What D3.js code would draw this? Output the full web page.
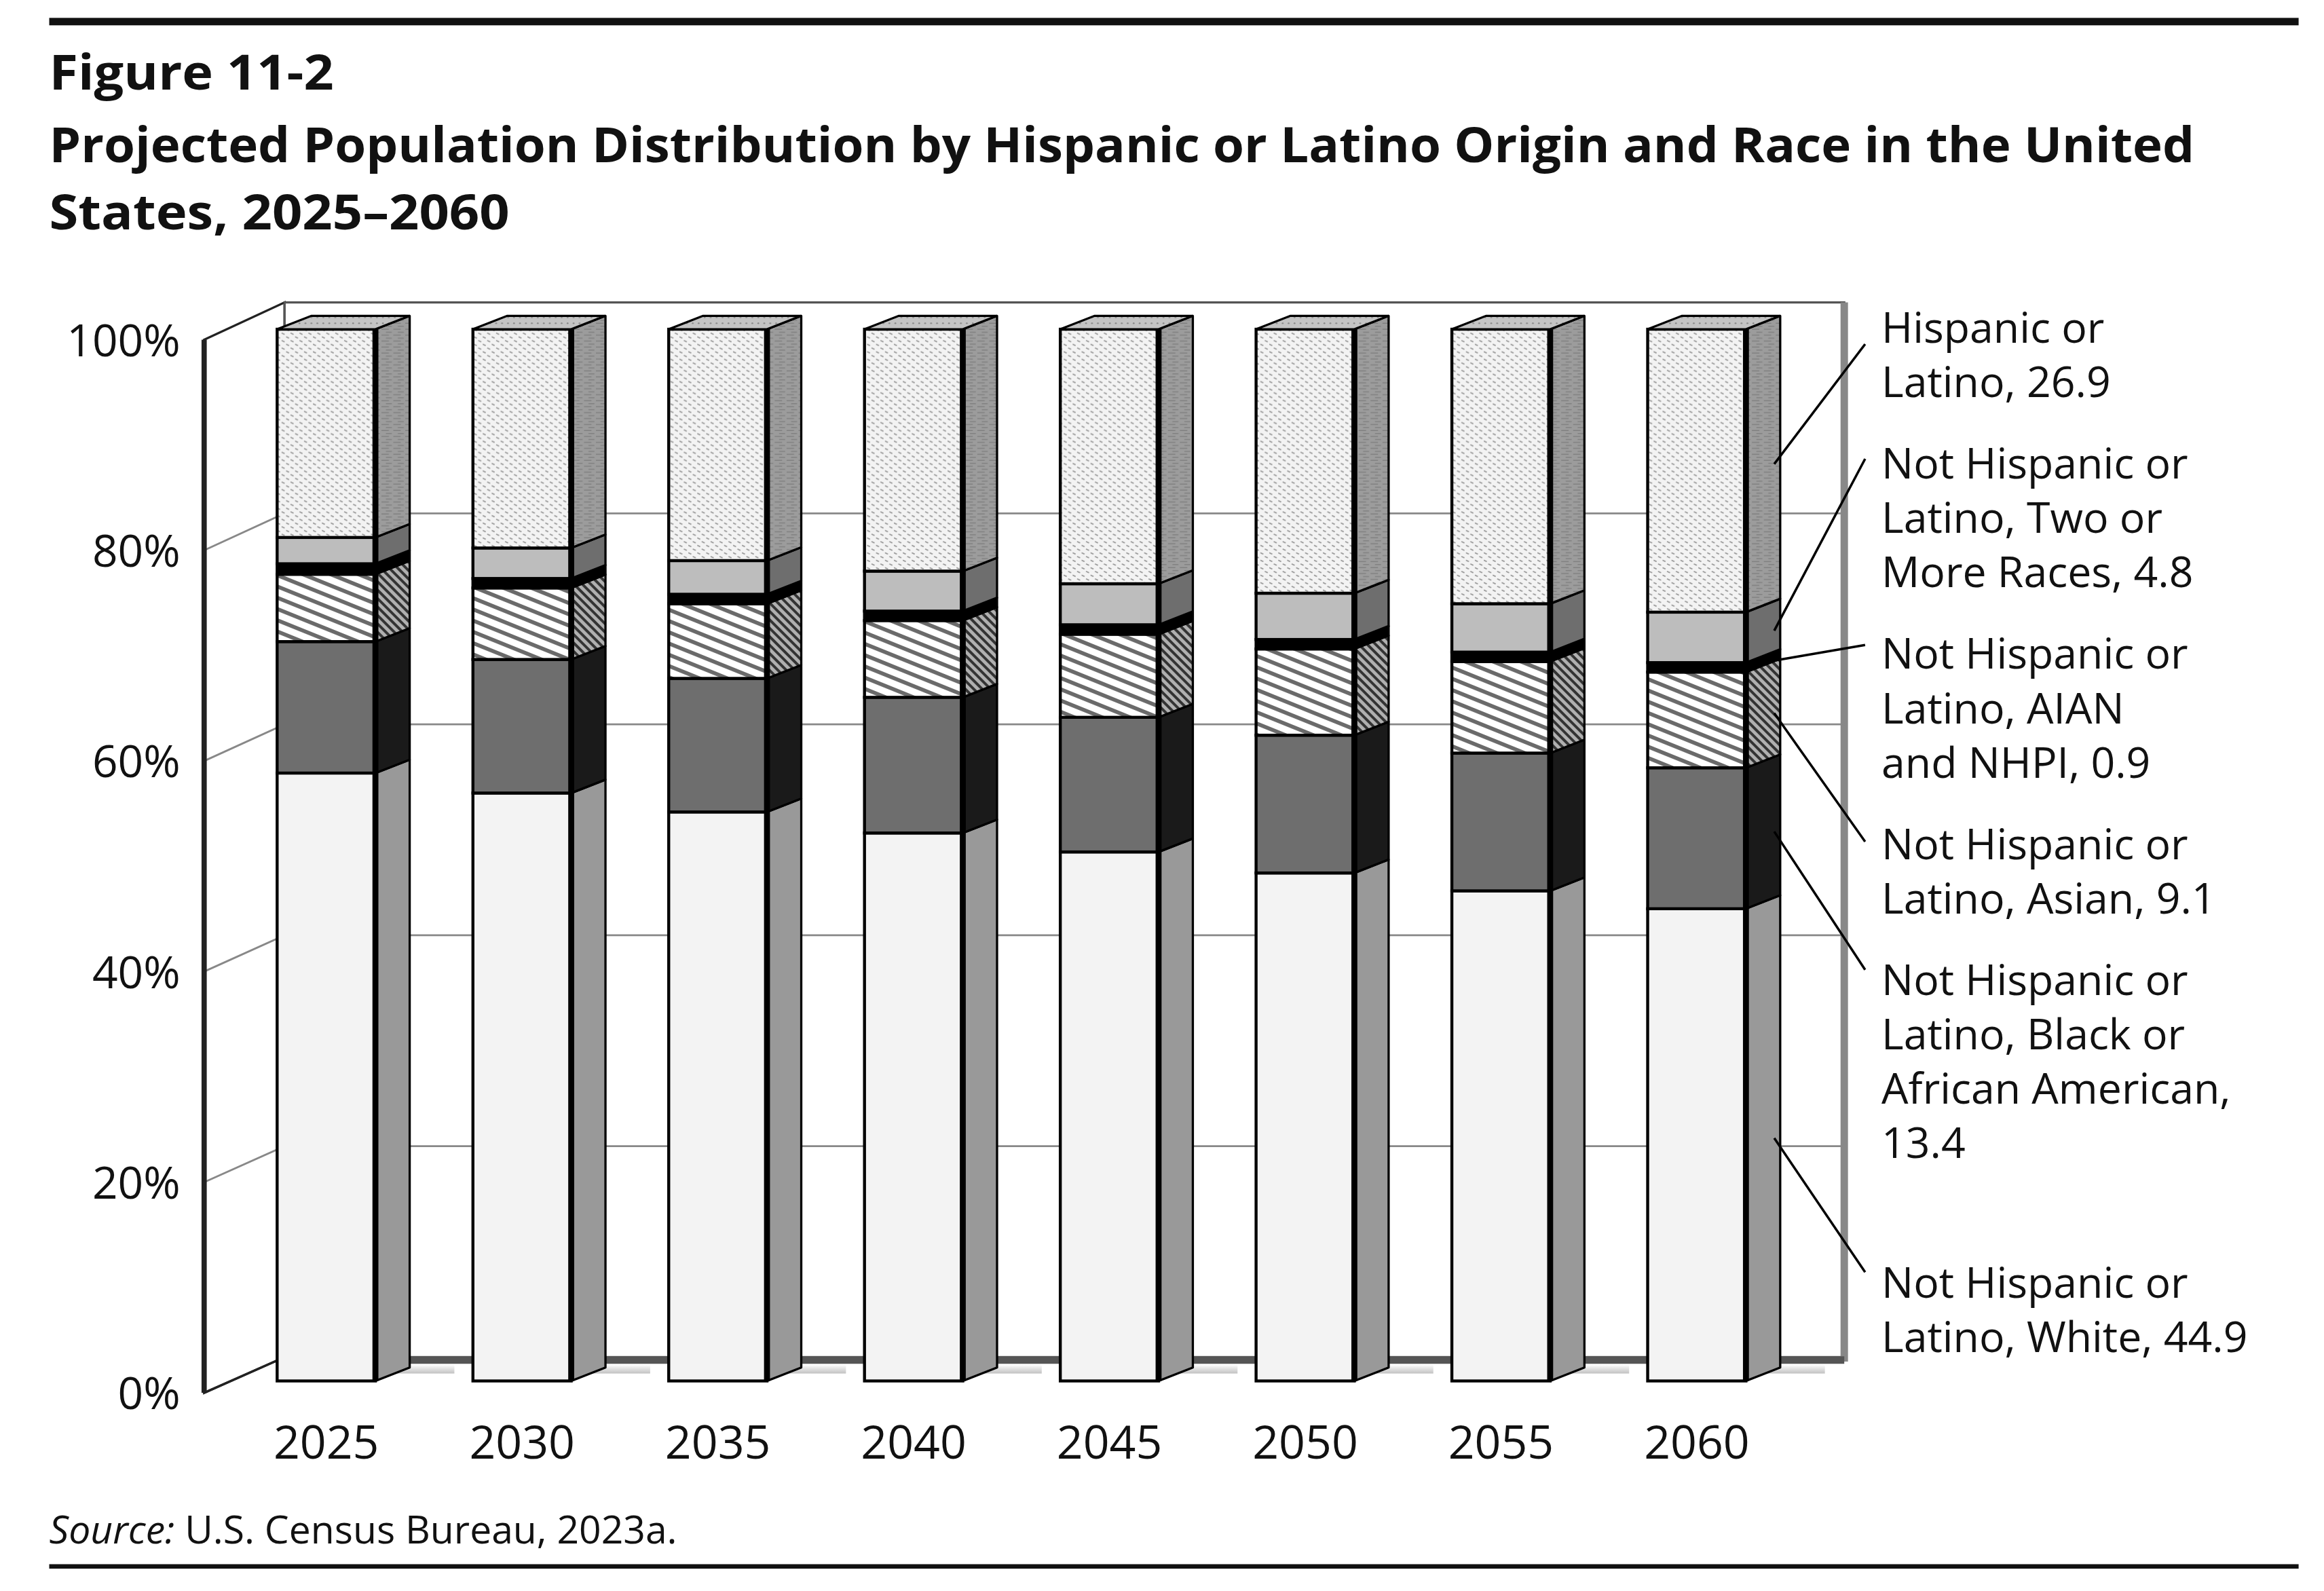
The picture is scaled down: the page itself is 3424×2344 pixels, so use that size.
<!DOCTYPE html>
<html>
<head>
<meta charset="utf-8">
<script src="https://cdn.jsdelivr.net/npm/d3@7"></script>
<style>
  body { margin: 0; background: #fff; }
  text { font-family: "Open Sans", "Noto Sans", sans-serif; fill: #111; }
</style>
</head>
<body>
<script>
// data, bottom to top within each bar
var years = ['2025', '2030', '2035', '2040', '2045', '2050', '2055', '2060']
var white = [57.8, 55.9, 54.1, 52.1, 50.3, 48.3, 46.6, 44.9]
var black = [12.5, 12.7, 12.7, 12.9, 12.8, 13.1, 13.1, 13.4]
var asian = [6.4, 6.8, 7.1, 7.3, 7.9, 8.2, 8.7, 9.1]
var aian = [1.0, 0.9, 0.9, 0.9, 0.9, 0.9, 0.9, 0.9]
var twoOrMore = [2.5, 2.9, 3.2, 3.8, 3.9, 4.4, 4.6, 4.8]
var hispanic = [19.8, 20.8, 22.0, 23.0, 24.2, 25.1, 26.1, 26.9]
var yTicks = [0, 20, 40, 60, 80, 100]
var seriesNames = ['white', 'black', 'asian', 'aian', 'two', 'hispanic']
var seriesValues = [white, black, asian, aian, twoOrMore, hispanic]
var labelLines = [
  ['Not Hispanic or', 'Latino, White, 44.9'],
  ['Not Hispanic or', 'Latino, Black or', 'African American,', '13.4'],
  ['Not Hispanic or', 'Latino, Asian, 9.1'],
  ['Not Hispanic or', 'Latino, AIAN', 'and NHPI, 0.9'],
  ['Not Hispanic or', 'Latino, Two or', 'More Races, 4.8'],
  ['Hispanic or', 'Latino, 26.9']
]
var labelTop = [871, 668, 577, 449, 321, 230]
var leaderStart = [854, 651, 565, 433, 308, 231]

var W = 1560, H = 1068
var svg = d3.select('body').append('svg')
  .attr('width', 3424).attr('height', 2344)
  .attr('viewBox', '0 0 ' + W + ' ' + H)

// patterns
var defs = svg.append('defs')
var p = defs.append('pattern').attr('id', 'hisFront').attr('patternUnits', 'userSpaceOnUse')
  .attr('width', 6).attr('height', 5)
p.append('rect').attr('width', 6).attr('height', 5).attr('fill', '#f3f3f3')
p.append('path').attr('d', 'M0,1 l2,1 M3,3.5 l2,1').attr('stroke', '#9a9a9a').attr('stroke-width', 0.8)
p = defs.append('pattern').attr('id', 'hisSide').attr('patternUnits', 'userSpaceOnUse')
  .attr('width', 8).attr('height', 4)
p.append('rect').attr('width', 8).attr('height', 4).attr('fill', '#9c9c9c')
p.append('path').attr('d', 'M0,1 h5 M3,3 h4').attr('stroke', '#808080').attr('stroke-width', 0.7)
p = defs.append('pattern').attr('id', 'topFace').attr('patternUnits', 'userSpaceOnUse')
  .attr('width', 4).attr('height', 4)
p.append('rect').attr('width', 4).attr('height', 4).attr('fill', '#c4c4c4')
p.append('circle').attr('cx', 1).attr('cy', 1).attr('r', 0.6).attr('fill', '#888')
p = defs.append('pattern').attr('id', 'asianFront').attr('patternUnits', 'userSpaceOnUse')
  .attr('width', 7).attr('height', 7).attr('patternTransform', 'rotate(22)')
p.append('rect').attr('width', 7).attr('height', 7).attr('fill', '#fff')
p.append('rect').attr('width', 7).attr('height', 2.6).attr('fill', '#6a6a6a')
p = defs.append('pattern').attr('id', 'asianSide').attr('patternUnits', 'userSpaceOnUse')
  .attr('width', 4).attr('height', 4).attr('patternTransform', 'rotate(45)')
p.append('rect').attr('width', 4).attr('height', 4).attr('fill', '#b0b0b0')
p.append('rect').attr('width', 4).attr('height', 1.8).attr('fill', '#333')

var frontFill = { white: '#f3f3f3', black: '#6e6e6e', asian: 'url(#asianFront)', aian: '#000', two: '#bdbdbd', hispanic: 'url(#hisFront)' }
var sideFill = { white: '#999', black: '#1a1a1a', asian: 'url(#asianSide)', aian: '#000', two: '#6e6e6e', hispanic: 'url(#hisSide)' }

// scales
var x = d3.scaleBand().domain(years).range([186, 1172]).paddingInner(0.498).paddingOuter(0)
var yFront = d3.scaleLinear().domain([0, 100]).range([927, 221])
var yAxis = d3.scaleLinear().domain([0, 100]).range([935, 228])
var yBack = d3.scaleLinear().domain([0, 100]).range([911, 203])
var axisX = 137, backX = 191, backRight = 1238
var dx = 23, dy = -9

// walls
var wall = svg.append('g')
wall.append('path')
  .attr('d', 'M' + axisX + ',' + yAxis(100) + 'L' + backX + ',' + yBack(100) + 'L' + backX + ',' + yBack(0) + 'L' + axisX + ',' + yAxis(0) + 'Z')
  .attr('fill', '#fff').attr('stroke', '#222').attr('stroke-width', 1.5)
wall.append('rect').attr('x', backX).attr('y', yBack(100)).attr('width', backRight - backX).attr('height', yBack(0) - yBack(100))
  .attr('fill', '#fff').attr('stroke', '#555').attr('stroke-width', 1.5)
wall.append('line').attr('x1', backRight).attr('x2', backRight).attr('y1', yBack(100)).attr('y2', yBack(0) + 3)
  .attr('stroke', '#888').attr('stroke-width', 5)
wall.append('line').attr('x1', backX).attr('x2', backRight).attr('y1', yBack(0) + 2).attr('y2', yBack(0) + 2)
  .attr('stroke', '#555').attr('stroke-width', 5)
wall.selectAll('.grid').data(yTicks.slice(1, 5)).enter().append('path')
  .attr('d', function(d) {
    return 'M' + axisX + ',' + yAxis(d) + 'L' + backX + ',' + yBack(d) + 'H' + backRight
  })
  .attr('fill', 'none').attr('stroke', '#888').attr('stroke-width', 1.3)
wall.append('line').attr('x1', axisX).attr('x2', axisX).attr('y1', yAxis(100)).attr('y2', yAxis(0))
  .attr('stroke', '#222').attr('stroke-width', 3.5)
wall.append('line').attr('x1', axisX).attr('x2', backX).attr('y1', yAxis(0)).attr('y2', yBack(0))
  .attr('stroke', '#222').attr('stroke-width', 1.5)

// floor shadows
var shadow = defs.append('linearGradient').attr('id', 'shadow').attr('x1', 0).attr('x2', 0).attr('y1', 0).attr('y2', 1)
shadow.append('stop').attr('offset', 0).attr('stop-color', '#fff')
shadow.append('stop').attr('offset', 1).attr('stop-color', '#999')
svg.selectAll('.shadow').data(years).enter().append('rect')
  .attr('x', function(d) { return x(d) + 10 }).attr('y', yBack(0) + 5)
  .attr('width', x.bandwidth() + dx + 20).attr('height', yFront(0) - yBack(0) - 10)
  .attr('fill', 'url(#shadow)').attr('opacity', 0.6)

// stacked bars
var rows = years.map(function(yr, i) {
  var o = { year: yr }
  seriesNames.forEach(function(s, k) { o[s] = seriesValues[k][i] })
  return o
})
var stacked = d3.stack().keys(seriesNames)(rows)

var bars = svg.selectAll('.bar').data(years).enter().append('g')
bars.each(function(yr, i) {
  var g = d3.select(this)
  var x0 = x(yr), x1 = x0 + x.bandwidth()
  stacked.forEach(function(layer) {
    var seg = layer[i]
    var yb = yFront(seg[0]), yt = yFront(seg[1])
    g.append('path')
      .attr('d', 'M' + x1 + ',' + yb + 'L' + (x1 + dx) + ',' + (yb + dy) + 'L' + (x1 + dx) + ',' + (yt + dy) + 'L' + x1 + ',' + yt + 'Z')
      .attr('fill', sideFill[layer.key]).attr('stroke', '#000').attr('stroke-width', 1.5).attr('stroke-linejoin', 'round')
    g.append('rect').attr('x', x0).attr('y', yt).attr('width', x.bandwidth()).attr('height', yb - yt)
      .attr('fill', frontFill[layer.key]).attr('stroke', '#000').attr('stroke-width', 2)
  })
  var yt = yFront(100)
  g.append('path')
    .attr('d', 'M' + x0 + ',' + yt + 'L' + (x0 + dx) + ',' + (yt + dy) + 'L' + (x1 + dx) + ',' + (yt + dy) + 'L' + x1 + ',' + yt + 'Z')
    .attr('fill', 'url(#topFace)').attr('stroke', '#000').attr('stroke-width', 1.5)
  g.append('line').attr('x1', x1).attr('x2', x1).attr('y1', yFront(100)).attr('y2', yFront(0))
    .attr('stroke', '#000').attr('stroke-width', 4)
})

// y axis labels
svg.selectAll('.ylab').data(yTicks).enter().append('text')
  .attr('x', 121).attr('y', function(d) { return yAxis(d) + 11 })
  .attr('text-anchor', 'end').attr('font-size', 30)
  .text(function(d) { return d + '%' })

// x labels
svg.selectAll('.xlab').data(years).enter().append('text')
  .attr('x', function(d) { return x(d) + x.bandwidth() / 2 }).attr('y', 979)
  .attr('text-anchor', 'middle').attr('font-size', 31)
  .text(function(d) { return d })

// series labels with leaders to 2060 bar
var last = years.length - 1
var lx = x(years[last]) + x.bandwidth() + dx
stacked.forEach(function(layer, k) {
  var seg = layer[last]
  var ty = (yFront(seg[0]) + yFront(seg[1])) / 2 + dy / 2
  svg.append('line').attr('x1', 1252).attr('y1', leaderStart[k]).attr('x2', lx - 4).attr('y2', ty)
    .attr('stroke', '#000').attr('stroke-width', 1.6)
  var t = svg.append('text').attr('x', 1263).attr('y', labelTop[k]).attr('font-size', 28.5)
  labelLines[k].forEach(function(line, j) {
    t.append('tspan').attr('x', 1263).attr('dy', j === 0 ? 0 : 36.5).text(line)
  })
})

// title, source and rules
svg.append('rect').attr('x', 33).attr('y', 12).attr('width', 1510).attr('height', 5).attr('fill', '#111')
svg.append('rect').attr('x', 33).attr('y', 1050).attr('width', 1510).attr('height', 3).attr('fill', '#111')
svg.append('text').attr('x', 33).attr('y', 60).attr('font-size', 33).attr('font-weight', 'bold')
  .attr('textLength', 191).attr('lengthAdjust', 'spacingAndGlyphs').text('Figure 11-2')
svg.append('text').attr('x', 33).attr('y', 109).attr('font-size', 33).attr('font-weight', 'bold')
  .attr('textLength', 1440).attr('lengthAdjust', 'spacingAndGlyphs')
  .text('Projected Population Distribution by Hispanic or Latino Origin and Race in the United')
svg.append('text').attr('x', 33).attr('y', 154).attr('font-size', 33).attr('font-weight', 'bold')
  .attr('textLength', 309).attr('lengthAdjust', 'spacingAndGlyphs').text('States, 2025–2060')
var src = svg.append('text').attr('x', 33).attr('y', 1036).attr('font-size', 26)
src.append('tspan').attr('font-style', 'italic').text('Source:')
src.append('tspan').text(' U.S. Census Bureau, 2023a.')
</script>
</body>
</html>
